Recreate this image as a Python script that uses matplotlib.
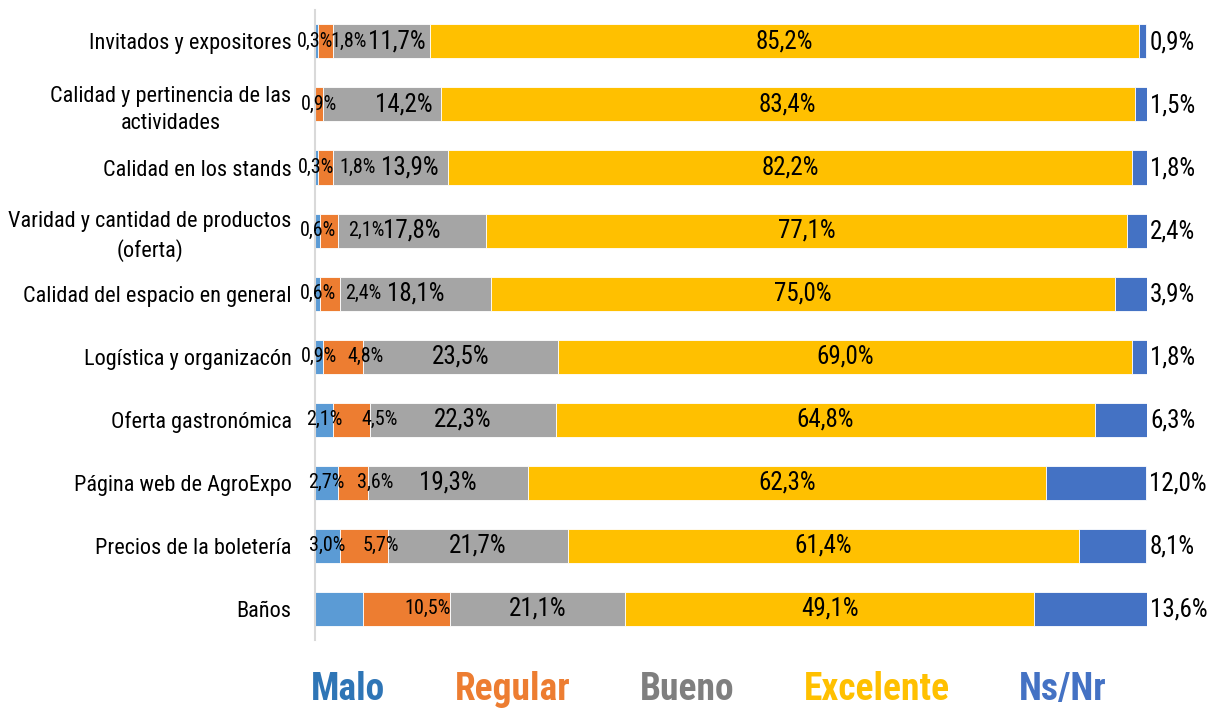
import matplotlib
matplotlib.use("Agg")
import matplotlib.pyplot as plt
import numpy as np

categories = [
    "Invitados y expositores",
    "Calidad y pertinencia de las\nactividades",
    "Calidad en los stands",
    "Varidad y cantidad de productos\n(oferta)",
    "Calidad del espacio en general",
    "Logística y organizacón",
    "Oferta gastronómica",
    "Página web de AgroExpo",
    "Precios de la boletería",
    "Baños",
]
series_names = ["Malo", "Regular", "Bueno", "Excelente", "Ns/Nr"]
malo      = [0.3, 0.0, 0.3, 0.6, 0.6, 0.9, 2.1, 2.7, 3.0, 5.7]
regular   = [1.8, 0.9, 1.8, 2.1, 2.4, 4.8, 4.5, 3.6, 5.7, 10.5]
bueno     = [11.7, 14.2, 13.9, 17.8, 18.1, 23.5, 22.3, 19.3, 21.7, 21.1]
excelente = [85.2, 83.4, 82.2, 77.1, 75.0, 69.0, 64.8, 62.3, 61.4, 49.1]
nsnr      = [0.9, 1.5, 1.8, 2.4, 3.9, 1.8, 6.3, 12.0, 8.1, 13.6]
show_malo = [True, False, True, True, True, True, True, True, True, False]

bar_colors = ["#5B9BD5", "#ED7D31", "#A5A5A5", "#FFC000", "#4472C4"]
legend_colors = ["#2E75B6", "#ED7D31", "#7F7F7F", "#FFC000", "#4472C4"]

plt.rcParams["font.family"] = ["Roboto Condensed", "Liberation Sans", "DejaVu Sans"]

fig = plt.figure(figsize=(12.12, 7.09), dpi=100)
ax = fig.add_axes([0.26, 0.097, 0.6865, 0.889])

data = [malo, regular, bueno, excelente, nsnr]
y = np.arange(len(categories))
left = np.zeros(len(categories))
lefts = []
for vals, col, name in zip(data, bar_colors, series_names):
    vals = np.array(vals)
    ax.barh(y, vals, left=left, height=0.54, color=col, edgecolor="white",
            linewidth=0.6, label=name)
    lefts.append(left.copy())
    left = left + vals

def fmt(v):
    return f"{v:.1f}%".replace(".", ",")

# label nudges in pixels (Excel-style manual label placement)
reg_nudge = [23, 0, 32, 37, 33, 23, 28, 23, 17, 21]
bue_nudge = [16, 22, 19, 0, 0, 0, 0, 0, 0, 0]
malo_nudge = [-1, 0, 0, 0, 0, 0, 0, 0, 0, 0]

small_fs = 14.5
big_fs = 18
for i in range(len(categories)):
    if show_malo[i]:
        ax.annotate(fmt(malo[i]), (lefts[0][i] + malo[i] / 2, i), ha="center", va="center",
                    fontsize=small_fs, xytext=(malo_nudge[i], 0), textcoords="offset pixels")
    ax.annotate(fmt(regular[i]), (lefts[1][i] + regular[i] / 2, i), ha="center", va="center",
                fontsize=small_fs, xytext=(reg_nudge[i], 0), textcoords="offset pixels")
    ax.annotate(fmt(bueno[i]), (lefts[2][i] + bueno[i] / 2, i), ha="center", va="center",
                fontsize=big_fs, xytext=(bue_nudge[i], 0), textcoords="offset pixels")
    ax.annotate(fmt(excelente[i]), (lefts[3][i] + excelente[i] / 2, i), ha="center", va="center",
                fontsize=big_fs)
    ax.annotate(fmt(nsnr[i]), (lefts[4][i] + nsnr[i], i), ha="left", va="center",
                fontsize=big_fs, xytext=(3, -1), textcoords="offset pixels")

ax.set_xlim(0, 100)
ax.set_ylim(9.5, -0.5)
ax.set_yticks(y)
ax.set_yticklabels(categories, fontsize=16, linespacing=1.4, multialignment="center")
ax.tick_params(axis="y", length=0, pad=17)
ax.set_xticks([])
for s in ["top", "right", "bottom"]:
    ax.spines[s].set_visible(False)
ax.spines["left"].set_color("#D9D9D9")
ax.spines["left"].set_linewidth(1.5)

handles = [plt.Rectangle((0, 0), 0, 0, visible=False) for _ in series_names]
leg = fig.legend(handles, series_names, loc="center", bbox_to_anchor=(0.585, 0.028),
                 ncol=5, frameon=False, handlelength=0, handletextpad=0,
                 columnspacing=1.85, prop={"weight": "bold", "size": 27})
for t, c in zip(leg.get_texts(), legend_colors):
    t.set_color(c)

fig.savefig("out.png", dpi=100)
